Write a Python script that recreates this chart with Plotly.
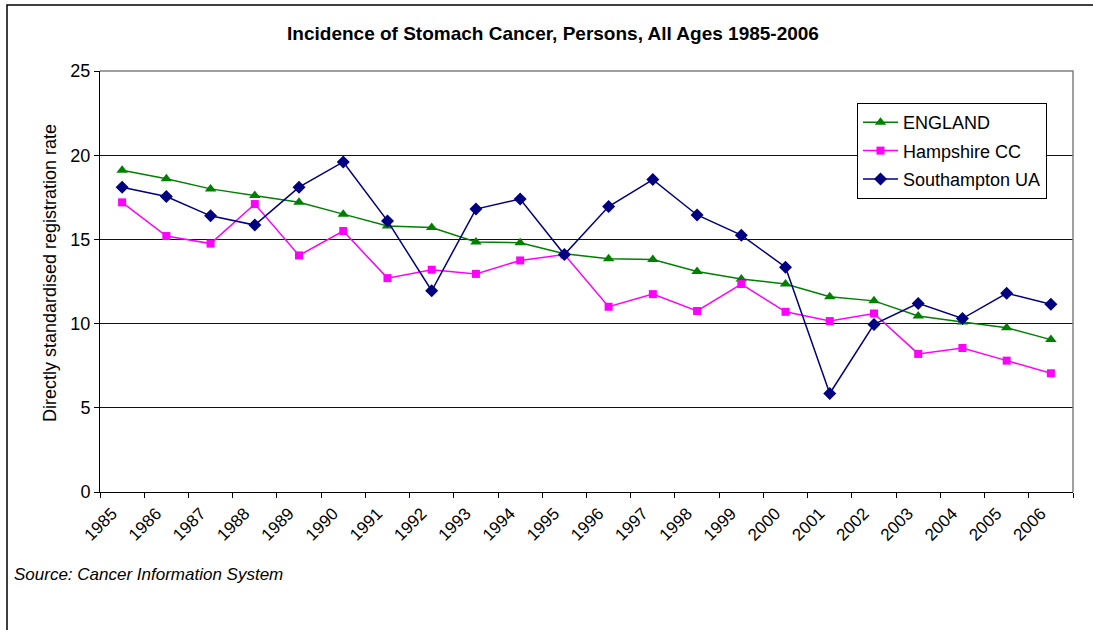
import plotly.graph_objects as go

years = [str(y) for y in range(1985, 2007)]

england = [19.1, 18.6, 18.0, 17.6, 17.2, 16.5, 15.8, 15.7, 14.85, 14.8, 14.15,
           13.85, 13.8, 13.1, 12.65, 12.35, 11.6, 11.35, 10.45, 10.1, 9.75, 9.05]
hampshire = [17.2, 15.2, 14.75, 17.1, 14.05, 15.5, 12.7, 13.2, 12.95, 13.75, 14.1,
             11.0, 11.75, 10.75, 12.35, 10.7, 10.15, 10.6, 8.2, 8.55, 7.8, 7.05]
southampton = [18.1, 17.55, 16.4, 15.85, 18.1, 19.6, 16.1, 11.95, 16.8, 17.4, 14.1,
               16.95, 18.55, 16.45, 15.25, 13.35, 5.85, 9.95, 11.2, 10.3, 11.8, 11.15]

series_names = ["ENGLAND", "Hampshire CC", "Southampton UA"]
series_colors = ["#008000", "#FF00FF", "#000080"]
series_symbols = ["triangle-up", "square", "diamond"]
series_sizes = [10, 8, 10]

W, H = 1093, 630
L, R, T, B = 100, 1073, 71, 492

FONT = "Arial, 'Liberation Sans', sans-serif"

fig = go.Figure()
for name, vals, col, sym, sz in zip(series_names, [england, hampshire, southampton],
                                    series_colors, series_symbols, series_sizes):
    fig.add_trace(go.Scatter(
        x=years, y=vals, name=name, mode="lines+markers",
        line=dict(color=col, width=1.5),
        marker=dict(symbol=sym, size=sz, color=col),
        legendgroup=name,
    ))

def px(xp):
    return (xp - L) / (R - L)

def py(yp):
    return (B - yp) / (B - T)

fig.update_layout(
    width=W, height=H,
    margin=dict(l=L, r=W - R, t=T, b=H - B),
    paper_bgcolor="white", plot_bgcolor="white",
    font=dict(family=FONT, color="black", size=16),
    title=dict(text="<b>Incidence of Stomach Cancer, Persons, All Ages 1985-2006</b>",
               x=553 / W, xanchor="center", xref="container",
               y=1 - 33 / H, yanchor="middle", yref="container",
               font=dict(size=19, family=FONT, color="black")),
    showlegend=True,
    legend=dict(x=px(857), y=py(103), xanchor="left", yanchor="top",
                bgcolor="white", bordercolor="black", borderwidth=1,
                font=dict(size=18, family=FONT, color="black"),
                tracegroupgap=2, itemwidth=35),
    xaxis=dict(type="category", showgrid=False, showline=True, linecolor="black",
               linewidth=1, ticks="outside", ticklen=5, tickcolor="black",
               tickson="boundaries", tickangle=-45,
               ticklabelshift=-10, ticklabelstandoff=4,
               tickfont=dict(size=17, family=FONT, color="black"),
               range=[-0.5, len(years) - 0.5], zeroline=False, fixedrange=True),
    yaxis=dict(range=[0, 25], tickvals=[0, 5, 10, 15, 20, 25], showgrid=True,
               gridcolor="#111111", gridwidth=1, showline=True, linecolor="black",
               linewidth=1, ticks="outside", ticklen=5, tickcolor="black",
               tickfont=dict(size=18, family=FONT, color="black"),
               zeroline=False, fixedrange=True),
    shapes=[
        dict(type="path", xref="paper", yref="paper",
             path="M 0,1 L 1,1 L 1,0", line=dict(color="#808080", width=1.5),
             layer="above"),
        dict(type="rect", xref="paper", yref="paper",
             x0=px(7), x1=px(1100), y0=py(640), y1=py(5),
             line=dict(color="black", width=1.5), fillcolor="rgba(0,0,0,0)",
             layer="above"),
    ],
    annotations=[
        dict(text="Directly standardised registration rate", textangle=-90,
             xref="paper", yref="paper", x=px(50), y=py(273),
             xanchor="center", yanchor="middle", showarrow=False,
             font=dict(size=18, family=FONT, color="black")),
        dict(text="<i>Source: Cancer Information System</i>",
             xref="paper", yref="paper", x=px(12), y=py(574),
             xanchor="left", yanchor="middle", showarrow=False,
             font=dict(size=17, family=FONT, color="black")),
    ],
)

fig.write_html("out.html", config={"displayModeBar": False},
               post_script="document.body.style.margin='0';document.body.style.overflow='hidden';")
